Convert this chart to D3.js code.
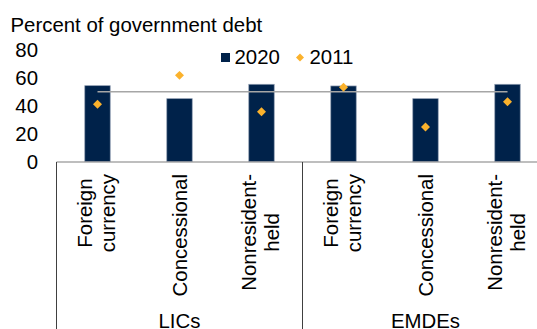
<!DOCTYPE html>
<html>
<head>
<meta charset="utf-8">
<script src="https://cdn.jsdelivr.net/npm/d3@7"></script>
<style>
  body { margin: 0; background: #fff; }
  svg { display: block; font-family: "Liberation Sans", Arial, sans-serif; }
</style>
</head>
<body>
<svg id="chart"></svg>
<script>
// data
const groups = ["LICs", "EMDEs"];
const categories = [["Foreign", "currency"], ["Concessional"], ["Nonresident-", "held"]];
const values2020 = [54.3, 45.0, 55.3, 54.1, 45.0, 55.3];
const values2011 = [41.0, 61.7, 35.7, 53.2, 24.7, 42.8];
const refLevel = 50;
const yTicks = [0, 20, 40, 60, 80];

const width = 537;
const height = 329;
const fs = 20.4;
const navy = "#00224a";
const gold = "#fbb22c";

// one row per bar: group x category
let rows = [];
groups.forEach((g, gi) => {
  categories.forEach((c, ci) => {
    const i = gi * categories.length + ci;
    rows.push({ key: g + "|" + ci, group: g, lines: c, v20: values2020[i], v11: values2011[i] });
  });
});

const svg = d3.select("#chart")
  .attr("width", width)
  .attr("height", height);

// scales
let x = d3.scaleBand()
  .domain(rows.map(d => d.key))
  .range([56.5, 548.5])
  .padding(0);

let y = d3.scaleLinear()
  .domain([0, 80])
  .range([161.5, 49.8]);

const barW = x.bandwidth() * 0.31;
const cx = d => x(d.key) + x.bandwidth() / 2;

// title
svg.append("text")
  .attr("x", 10.5)
  .attr("y", 31.5)
  .attr("font-size", fs)
  .text("Percent of government debt");

// y axis labels
svg.append("g")
  .attr("transform", "translate(38,0)")
  .call(d3.axisLeft(y).tickValues(yTicks).tickSize(0).tickPadding(0))
  .call(g => g.select(".domain").remove())
  .call(g => g.selectAll("text")
    .attr("font-size", fs)
    .attr("font-family", "Liberation Sans, Arial, sans-serif")
    .attr("fill", "#000"));

// bars
svg.append("g")
  .selectAll("rect")
  .data(rows)
  .join("rect")
  .attr("x", d => cx(d) - barW / 2)
  .attr("y", d => y(d.v20))
  .attr("width", barW)
  .attr("height", d => y(0) - y(d.v20))
  .attr("fill", navy)
  .attr("stroke", "#8e9bb0")
  .attr("stroke-width", 0.7);

// reference line at 50
svg.append("line")
  .attr("x1", cx(rows[0]))
  .attr("x2", cx(rows[rows.length - 1]))
  .attr("y1", y(refLevel))
  .attr("y2", y(refLevel))
  .attr("stroke", "#a6a6a6")
  .attr("stroke-width", 1.5);

// 2011 markers
const diamond = d3.symbol().type(d3.symbolSquare).size(40);
svg.append("g")
  .selectAll("path")
  .data(rows)
  .join("path")
  .attr("d", diamond)
  .attr("transform", d => `translate(${cx(d)},${y(d.v11)}) rotate(45)`)
  .attr("fill", gold);

// x axis
svg.append("line")
  .attr("x1", 56.5).attr("x2", width)
  .attr("y1", 162).attr("y2", 162)
  .attr("stroke", "#7f7f7f")
  .attr("stroke-width", 1.2);

// group boundary ticks
const bounds = [0, categories.length].map(i => x(rows[i].key));
svg.append("g")
  .selectAll("line")
  .data(bounds)
  .join("line")
  .attr("x1", d => d).attr("x2", d => d)
  .attr("y1", 162).attr("y2", height)
  .attr("stroke", "#404040")
  .attr("stroke-width", 1);

// category labels, rotated, block top-aligned under the axis
const lineH = 23;
const labels = svg.append("g")
  .selectAll("g")
  .data(rows)
  .join("g")
  .attr("transform", d => `translate(${cx(d)},0)`);

labels.each(function (d) {
  const g = d3.select(this);
  const n = d.lines.length;
  const texts = g.selectAll("text")
    .data(d.lines)
    .join("text")
    .attr("font-size", fs)
    .attr("text-anchor", "middle")
    .attr("transform", "rotate(-90)")
    .attr("y", (t, i) => 7 - 1.5 * (n - 1) + (i - (n - 1) / 2) * lineH)
    .text(t => t);
  let maxLen = 0;
  texts.each(function () { maxLen = Math.max(maxLen, this.getComputedTextLength()); });
  texts.attr("x", -(174 + maxLen / 2));
});

// group labels
svg.append("g")
  .selectAll("text")
  .data(groups)
  .join("text")
  .attr("x", (g, gi) => (bounds[0] + (gi + 0.5) * categories.length * x.step()))
  .attr("y", 327.5)
  .attr("font-size", fs)
  .attr("text-anchor", "middle")
  .text(g => g);

// legend
const legend = svg.append("g");
legend.append("rect")
  .attr("x", 221).attr("y", 53)
  .attr("width", 9).attr("height", 9)
  .attr("fill", navy);
legend.append("text")
  .attr("x", 234.5).attr("y", 63.5)
  .attr("font-size", fs)
  .text("2020");
legend.append("path")
  .attr("d", d3.symbol().type(d3.symbolSquare).size(32))
  .attr("transform", "translate(300,57.5) rotate(45)")
  .attr("fill", gold);
legend.append("text")
  .attr("x", 309.5).attr("y", 63.5)
  .attr("font-size", fs)
  .text("2011");
</script>
</body>
</html>
